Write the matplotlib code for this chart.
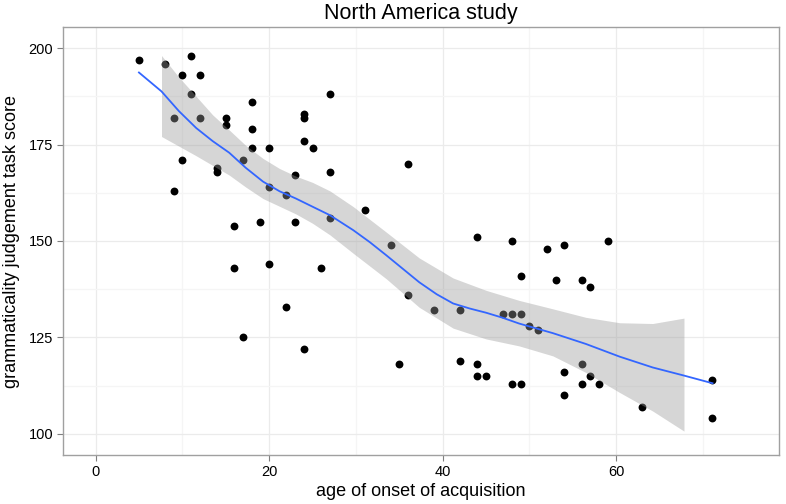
import numpy as np
import matplotlib
matplotlib.use("Agg")
import matplotlib.pyplot as plt
from matplotlib.ticker import MultipleLocator

# Scatter data
age = [5, 8, 11, 10, 12, 11, 9, 12, 18, 15, 15, 18, 18, 20, 17, 14, 14, 10, 9, 20,
       22, 23, 24, 24, 24, 25, 27, 27, 27, 16, 19, 23, 36, 31, 16, 20, 26, 22, 17, 24,
       34, 36, 39, 42, 44, 48, 52, 54, 49, 53, 47, 48, 49, 50, 51, 35, 42, 44, 44, 45,
       48, 49, 54, 54, 59, 56, 57, 56, 57, 56, 58, 63, 71, 71]
score = [197, 196, 198, 193, 193, 188, 182, 182, 186, 182, 180, 179, 174, 174, 171, 169, 168, 171, 163, 164,
         162, 167, 183, 182, 176, 174, 188, 168, 156, 154, 155, 155, 170, 158, 143, 144, 143, 133, 125, 122,
         149, 136, 132, 132, 151, 150, 148, 149, 141, 140, 131, 131, 131, 128, 127, 118, 119, 118, 115, 115,
         113, 113, 116, 110, 150, 140, 138, 118, 115, 113, 113, 107, 114, 104]

# Loess fit line
fit_x = [5.0, 7.6, 9.6, 11.6, 13.5, 15.4, 17.3, 19.3, 21.2, 23.1, 25.0, 27.0, 29.7,
         31.6, 33.5, 35.4, 37.3, 39.3, 41.2, 43.1, 45.0, 46.9, 48.8, 52.7, 56.5,
         60.4, 64.2, 67.8, 71.1]
fit_y = [193.7, 188.8, 183.7, 179.3, 175.9, 172.9, 169.0, 165.4, 162.9, 161.0, 158.9, 156.7, 152.8,
         149.7, 146.3, 142.8, 139.3, 136.2, 133.8, 132.5, 131.4, 130.1, 128.6, 126.1, 123.3,
         120.0, 117.2, 115.1, 113.1]

# Confidence band
band_x = [7.6, 9.6, 11.6, 13.5, 15.4, 17.3, 19.3, 21.2, 23.1, 25.0, 27.0, 29.7,
          33.5, 37.3, 41.2, 45.0, 48.8, 52.7, 56.5, 60.4, 64.2, 67.8]
band_hi = [198.1, 192.5, 187.5, 182.7, 178.8, 174.8, 171.4, 168.8, 166.8, 165.2, 163.0, 158.9,
           152.3, 145.6, 140.4, 137.2, 134.6, 132.4, 130.2, 128.8, 128.6, 130.0]
band_lo = [177.1, 174.6, 172.1, 169.6, 167.1, 164.0, 161.0, 159.0, 157.0, 154.6, 151.6, 146.8,
           140.2, 132.8, 127.4, 124.6, 122.8, 120.2, 115.9, 110.7, 105.9, 100.7]

plt.rcParams['font.family'] = ['Liberation Sans', 'DejaVu Sans']

fig = plt.figure(figsize=(7.86, 5.04), dpi=100)
ax = fig.add_axes([63/786, 1 - 455/504, (779 - 63)/786, (455 - 27)/504])

ax.scatter(age, score, s=32, color='black', linewidths=0, zorder=3)
ax.fill_between(band_x, band_lo, band_hi, color='#999999', alpha=0.4, linewidth=0, zorder=4)
ax.plot(fit_x, fit_y, color='#3366FF', linewidth=1.3, zorder=5, solid_joinstyle='round')

ax.set_xlim(-3.75, 78.75)
ax.set_ylim(94.5, 205.5)
ax.xaxis.set_major_locator(MultipleLocator(20))
ax.xaxis.set_minor_locator(MultipleLocator(10))
ax.yaxis.set_major_locator(MultipleLocator(25))
ax.yaxis.set_minor_locator(MultipleLocator(12.5))

ax.grid(which='major', color='#EBEBEB', linewidth=0.9, zorder=0)
ax.grid(which='minor', color='#F5F5F5', linewidth=0.9, zorder=0)
ax.set_axisbelow(True)

for s in ax.spines.values():
    s.set_color('#A0A0A0')
    s.set_linewidth(1.0)

ax.tick_params(which='major', direction='out', length=4, width=0.8, color='#7F7F7F',
               labelsize=10.5, labelcolor='black', pad=3)
ax.tick_params(which='minor', length=0)

ax.set_title('North America study', fontsize=15.5, pad=6)
ax.set_xlabel('age of onset of acquisition', fontsize=13, labelpad=3)
ax.set_ylabel('grammaticality judgement task score', fontsize=13, labelpad=6)

fig.savefig('out.png', dpi=100)
